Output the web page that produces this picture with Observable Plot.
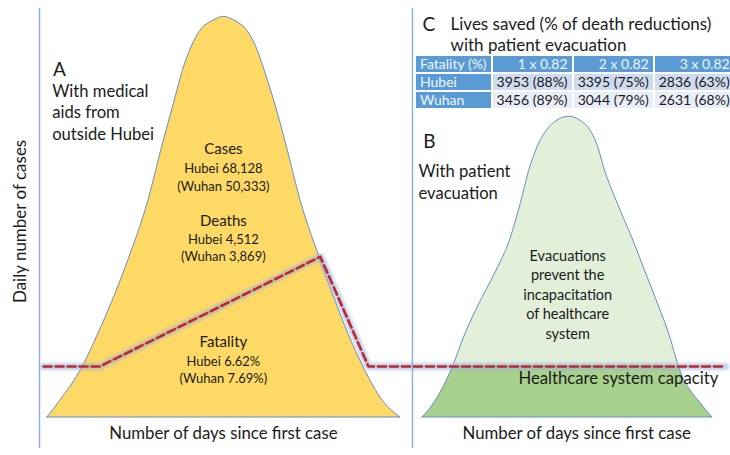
<!DOCTYPE html>
<html>
<head>
<meta charset="utf-8">
<script src="https://cdn.jsdelivr.net/npm/d3@7"></script>
<script src="https://cdn.jsdelivr.net/npm/@observablehq/plot@0.6"></script>
<style>
  html, body { margin: 0; padding: 0; background: #fff; }
  #wrap { position: relative; width: 730px; height: 455px; font-family: Lato, "Open Sans", sans-serif; }
  #wrap svg { position: absolute; left: 0; top: 0; }
  #tbl { position: absolute; left: 414px; top: 54px; border-collapse: separate; border-spacing: 2px; font-family: Lato, sans-serif; font-size: 14px; }
  #tbl td { height: 16px; line-height: 16px; padding: 0 4px; white-space: nowrap; }
  #tbl td.h { background: #5b9bd5; color: #eef4fb; }
  #tbl td.hn { background: #5b9bd5; color: #eef4fb; text-align: right; }
  #tbl tr.r0 td.v { background: #cfdbee; color: #1a1a1a; text-align: right; }
  #tbl tr.r1 td.v { background: #e8eef7; color: #1a1a1a; text-align: right; }
</style>
</head>
<body>
<div id="wrap"></div>
<script>
// ---------- data ----------
// Panel A epidemic curve (days since first case, daily cases as % of peak)
const curveADay   = [2.1, 5.6, 11.5, 15.8, 23.1, 29.2, 33.2, 35.9, 38.8, 40.6, 43.6, 46.1, 49.4, 52.8, 55.2, 58.3, 60.0, 63.3, 66.0, 70.0, 76.1, 82.8, 86.9, 92.0, 96.8];
const curveACases = [0, 4.2, 12.5, 20.9, 37.4, 54.1, 68.6, 77.8, 87.5, 92.0, 97.0, 98.7, 99.9, 98.7, 97.0, 92.0, 87.5, 77.8, 68.6, 54.1, 37.4, 20.9, 12.5, 4.2, 0];
// Panel B epidemic curve with evacuation
const curveBDay   = [2.7, 5.4, 11.0, 13.7, 17.7, 22.3, 26.3, 28.9, 31.6, 33.4, 36.5, 38.3, 41.9, 45.5, 47.3, 49.9, 51.3, 55.2, 59.0, 62.5, 66.0, 69.2, 71.3, 77.7, 80.4];
const curveBCases = [0, 3.0, 13.0, 19.7, 27.9, 36.2, 44.6, 52.9, 62.5, 67.1, 72.1, 73.7, 75.0, 73.7, 72.1, 67.1, 62.5, 52.9, 44.6, 36.2, 27.9, 19.7, 13.0, 3.0, 0];
// Healthcare system capacity (with surge from medical aid in panel A)
const capacity = 12.7;
const capacityDay   = [1.1, 16.1, 75.3, 88.2, 183.9];
const capacityCases = [capacity, capacity, 40.1, capacity, capacity];
// Statistics
const regions  = ["Hubei", "Wuhan"];
const cases    = [68128, 50333];
const deaths   = [4512, 3869];
const fatality = [6.62, 7.69];
// Table C
const fatalityMultipliers = [1, 2, 3];
const fatalityBase = 0.82;
const livesSaved = [[3953, 3395, 2836], [3456, 3044, 2631]];
const livesSavedPct = [[88, 75, 63], [89, 79, 68]];
// layout constant: panel B axis sits at day 100 of the shared x scale
const panelBStart = 100;

// ---------- build tables ----------
const A = curveADay.map((d, i) => ({day: d, cases: curveACases[i]}));
const B = curveBDay.map((d, i) => ({day: d + panelBStart, cases: curveBCases[i]}));
const cap = capacityDay.map((d, i) => ({day: d, cases: capacityCases[i]}));
const fmt = d3.format(",");
const statLines = (vals, f) => `${regions[0]} ${f(vals[0])}\n(${regions[1]} ${f(vals[1])})`;

const font = "Lato, 'Open Sans', sans-serif";
const ink = "#1b1b1b";
const outline = "#6a8cc4";
const crv = "monotone-x";

const svg = Plot.plot({
  width: 730,
  height: 455,
  margin: 0,
  style: {fontFamily: font, background: "transparent"},
  x: {domain: [0, 100], range: [39, 412], axis: null},
  y: {domain: [0, 100], range: [417, 16], axis: null},
  marks: [
    Plot.ruleX([0, panelBStart], {y1: -7.7, y2: 102, stroke: "#8fb3e0", strokeWidth: 1.5}),
    // panel A
    Plot.areaY(A, {x: "day", y: "cases", fill: "#ffd966", stroke: outline, strokeWidth: 1, curve: crv}),
    // panel B
    Plot.areaY(B, {x: "day", y: "cases", fill: "#e2efd9", curve: crv}),
    Plot.areaY(B, {x: "day", y: "cases", fill: "#a9d18e", curve: crv, ariaDescription: "capacity-fill"}),
    Plot.areaY(B, {x: "day", y: "cases", fill: "none", stroke: outline, strokeWidth: 1, curve: crv}),
    // capacity line
    Plot.line(cap, {x: "day", y: "cases", stroke: "#8fb0dc", strokeWidth: 7, strokeOpacity: 0.6, ariaDescription: "glow"}),
    Plot.line(cap, {x: "day", y: "cases", stroke: "#c4262e", strokeWidth: 2.6, strokeDasharray: "8,4"}),
    // panel A texts
    Plot.text(["A"], {x: 3.6, y: 86.8, text: d => d, textAnchor: "start", fontSize: 19, fill: ink}),
    Plot.text(["With medical\naids from\noutside Hubei"], {x: 3.4, y: 76.3, text: d => d, textAnchor: "start", fontSize: 16.6, lineHeight: 1.3, fill: ink}),
    Plot.text(["Cases", "Deaths", "Fatality"], {x: [49.3, 49.3, 49.3], y: [66.8, 48.9, 18.7], text: d => d, fontSize: 15, fill: ink}),
    Plot.text([
      statLines(cases, fmt),
      statLines(deaths, fmt),
      statLines(fatality, v => v.toFixed(2) + "%")
    ], {x: [49.3, 49.3, 49.3], y: [60.1, 42.5, 12.1], text: d => d, fontSize: 13, lineHeight: 1.35, fill: ink}),
    Plot.text(["Number of days since first case"], {x: 49.3, y: -4.1, text: d => d, fontSize: 16.8, fill: ink}),
    Plot.text(["Daily number of cases"], {x: -5.0, y: 48.9, text: d => d, rotate: -90, fontSize: 17, fill: ink}),
    // panel B / C texts
    Plot.text(["C"], {x: 102.7, y: 97.8, text: d => d, textAnchor: "start", fontSize: 19, fill: ink}),
    Plot.text(["Lives saved (% of death reductions)\nwith patient evacuation"], {x: 110.2, y: 95.8, text: d => d, textAnchor: "start", fontSize: 17, lineHeight: 1.24, fill: ink}),
    Plot.text(["B"], {x: 102.9, y: 68.7, text: d => d, textAnchor: "start", fontSize: 19, fill: ink}),
    Plot.text(["With patient\nevacuation"], {x: 101.6, y: 59.0, text: d => d, textAnchor: "start", fontSize: 16.6, lineHeight: 1.3, fill: ink}),
    Plot.text(["Evacuations\nprevent the\nincapacitation\nof healthcare\nsystem"], {x: 141.6, y: 30.9, text: d => d, fontSize: 14.5, lineHeight: 1.34, fill: ink}),
    Plot.text(["Healthcare system capacity"], {x: 128.4, y: 9.7, text: d => d, textAnchor: "start", fontSize: 16.7, fill: ink}),
    Plot.text(["Number of days since first case"], {x: 144.0, y: -4.1, text: d => d, fontSize: 16.8, fill: ink})
  ]
});

// clip the dark-green part of curve B to below the capacity line
const capPx = svg.scale("y").apply(capacity);
const sel = d3.select(svg);
const defs = sel.insert("defs", ":first-child");
defs.append("clipPath").attr("id", "belowCap").attr("clipPathUnits", "userSpaceOnUse")
  .append("rect").attr("x", 0).attr("y", capPx).attr("width", 730).attr("height", 455 - capPx);
defs.append("filter").attr("id", "soft").attr("x", "-5%").attr("y", "-20%").attr("width", "110%").attr("height", "140%")
  .append("feGaussianBlur").attr("stdDeviation", 1.6);
sel.selectAll('[aria-description="capacity-fill"]').attr("clip-path", "url(#belowCap)");
sel.selectAll('[aria-description="glow"]').attr("filter", "url(#soft)");

const wrap = document.getElementById("wrap");
wrap.appendChild(svg);

// table C
const table = document.createElement("table");
table.id = "tbl";
const head = document.createElement("tr");
head.innerHTML = `<td class="h" style="width:68px">Fatality (%)</td>` +
  fatalityMultipliers.map(m => `<td class="hn" style="width:68px">${m} x ${fatalityBase}</td>`).join("");
table.appendChild(head);
regions.forEach((r, i) => {
  const tr = document.createElement("tr");
  tr.className = "r" + i;
  tr.innerHTML = `<td class="h">${r}</td>` +
    livesSaved[i].map((v, j) => `<td class="v">${v} (${livesSavedPct[i][j]}%)</td>`).join("");
  table.appendChild(tr);
});
wrap.appendChild(table);
</script>
</body>
</html>
